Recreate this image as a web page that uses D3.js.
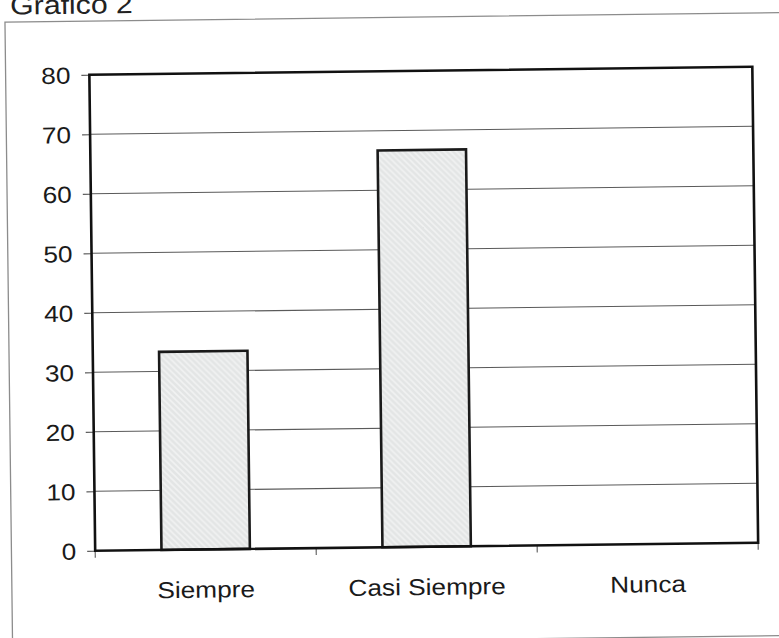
<!DOCTYPE html>
<html><head><meta charset="utf-8">
<script src="https://cdn.jsdelivr.net/npm/d3@7"></script>
<style>html,body{margin:0;padding:0;background:#fff;}svg{display:block;}</style>
</head><body>
<svg id="c" width="779" height="638"></svg>
<script>
const title = "Grafico 2";
const categories = ["Siempre", "Casi Siempre", "Nunca"];
const values = [33.3, 66.7, 0];
const yTicks = [0, 10, 20, 30, 40, 50, 60, 70, 80];

const svg = d3.select("#c");
const m = {left: 92.25, right: 755.25, top: 70.75, bottom: 546.75};
const FONT = "Liberation Sans, Arial, sans-serif";
const SX = 1.14;

const defs = svg.append("defs");
const pat = defs.append("pattern").attr("id","hatch").attr("patternUnits","userSpaceOnUse")
  .attr("width",6).attr("height",6);
pat.append("rect").attr("width",6).attr("height",6).attr("fill","#e3e5e5");
pat.append("path").attr("d","M-1,-1 L7,7 M-1,5 L1,7 M5,-1 L7,1").attr("stroke","#f1f2f2").attr("stroke-width",1.6);

const g = svg.append("g").attr("transform","rotate(-0.7,424,309)");

// outer frame
g.append("rect").attr("x",8.5).attr("y",17).attr("width",800).attr("height",623)
  .attr("fill","none").attr("stroke","#8c8c8c").attr("stroke-width",1.3);

// title
g.append("text").attr("transform",`translate(14,9.5) scale(${SX},1)`)
  .attr("font-family",FONT).attr("font-size",26.5).attr("fill","#222").text(title);

const x = d3.scaleBand().domain(categories).range([m.left, m.right]).paddingInner(0.6).paddingOuter(0.3);
const xb = d3.scaleBand().domain(categories).range([m.left, m.right]);
const y = d3.scaleLinear().domain([0, 80]).range([m.bottom, m.top]);

// gridlines
g.append("g").selectAll("line").data(yTicks.filter(t => t > 0 && t < 80)).join("line")
  .attr("x1", m.left).attr("x2", m.right)
  .attr("y1", d => y(d)).attr("y2", d => y(d))
  .attr("stroke","#5a5a5a").attr("stroke-width",1.1);

// y axis
const yAxis = g.append("g").attr("transform",`translate(${m.left},0)`)
  .call(d3.axisLeft(y).tickValues(yTicks).tickSize(8).tickPadding(0));
yAxis.select(".domain").remove();
yAxis.selectAll(".tick line").attr("stroke","#5a5a5a").attr("stroke-width",1.1);
yAxis.selectAll(".tick text").attr("x",null).attr("dy",null)
  .attr("transform",`translate(-19,8) scale(${SX},1)`)
  .attr("font-family",FONT).attr("font-size",23).attr("fill","#1a1a1a").attr("text-anchor","end");

// x axis ticks at band boundaries
const bounds = categories.map(c => xb(c)).concat([m.right]);
g.append("g").selectAll("line").data(bounds).join("line")
  .attr("x1", d => d).attr("x2", d => d).attr("y1", m.bottom).attr("y2", m.bottom + 7)
  .attr("stroke","#5a5a5a").attr("stroke-width",1.1);

// category labels
g.append("g").selectAll("text").data(categories).join("text")
  .attr("transform", d => `translate(${xb(d) + xb.bandwidth()/2},595) scale(${SX},1)`)
  .attr("text-anchor","middle").attr("font-family",FONT).attr("font-size",23).attr("fill","#1a1a1a")
  .text(d => d);

// bars
g.append("g").selectAll("rect").data(categories.map((c,i)=>({c, v: values[i]})).filter(d => d.v > 0)).join("rect")
  .attr("x", d => x(d.c)).attr("width", x.bandwidth())
  .attr("y", d => y(d.v)).attr("height", d => y(0) - y(d.v))
  .attr("fill","url(#hatch)").attr("stroke","#1a1a1a").attr("stroke-width",2.6);

// plot border
g.append("rect").attr("x",m.left).attr("y",m.top).attr("width",m.right-m.left).attr("height",m.bottom-m.top)
  .attr("fill","none").attr("stroke","#111").attr("stroke-width",2.6);
</script>
</body></html>
